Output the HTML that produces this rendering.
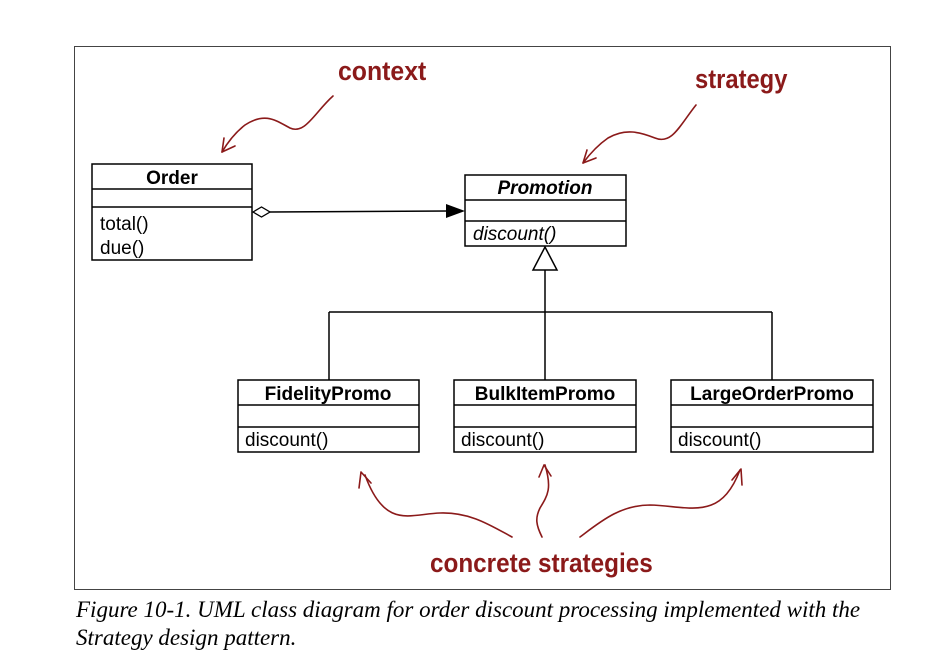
<!DOCTYPE html>
<html><head><meta charset="utf-8"><style>
html,body{margin:0;padding:0;background:#fff;width:948px;height:670px;overflow:hidden}
svg{display:block}
.b{font-family:"Liberation Sans",Arial,sans-serif;font-weight:bold;font-size:19px;fill:#000}
.m{font-family:"Liberation Sans",Arial,sans-serif;font-size:19px;fill:#000}
.h{font-family:"Liberation Sans Narrow","Liberation Sans",sans-serif;font-weight:bold;fill:#8b1a1a;font-size:27px}
.cap{font-family:"Liberation Serif",serif;font-style:italic;font-size:23px;fill:#000}
</style></head><body>
<svg width="948" height="670" viewBox="0 0 948 670">
<rect x="74.5" y="46.5" width="816" height="543" fill="#fff" stroke="#444" stroke-width="1"/>
<g fill="#fff" stroke="#000" stroke-width="1.5">
<rect x="92" y="164" width="160" height="96"/><line x1="92" y1="189" x2="252" y2="189"/><line x1="92" y1="207" x2="252" y2="207"/>
<rect x="465" y="175" width="161" height="71"/><line x1="465" y1="200" x2="626" y2="200"/><line x1="465" y1="221" x2="626" y2="221"/>
<rect x="238" y="380" width="181" height="72"/><line x1="238" y1="405" x2="419" y2="405"/><line x1="238" y1="427" x2="419" y2="427"/>
<rect x="454" y="380" width="182" height="72"/><line x1="454" y1="405" x2="636" y2="405"/><line x1="454" y1="427" x2="636" y2="427"/>
<rect x="671" y="380" width="202" height="72"/><line x1="671" y1="405" x2="873" y2="405"/><line x1="671" y1="427" x2="873" y2="427"/>
</g>
<g stroke="#000" stroke-width="1.5" fill="none">
<line x1="270" y1="212" x2="448" y2="211"/>
<line x1="545" y1="270" x2="545" y2="380"/>
<line x1="329" y1="312" x2="772" y2="312"/>
<line x1="329" y1="312" x2="329" y2="380"/>
<line x1="772" y1="312" x2="772" y2="380"/>
</g>
<polygon points="253,212 261.5,207 270,212 261.5,217" fill="#fff" stroke="#000" stroke-width="1.3"/>
<polygon points="446,204 465,211 446,218" fill="#000"/>
<polygon points="545,247 557,270 533,270" fill="#fff" stroke="#000" stroke-width="1.5"/>
<text class="b" x="172" y="184" text-anchor="middle">Order</text>
<text class="m" x="100" y="230">total()</text>
<text class="m" x="100" y="254">due()</text>
<text class="b" x="545" y="194" text-anchor="middle" font-style="italic">Promotion</text>
<text class="m" x="473" y="240" font-style="italic">discount()</text>
<text class="b" x="328" y="400" text-anchor="middle">FidelityPromo</text>
<text class="m" x="245" y="446">discount()</text>
<text class="b" x="545" y="400" text-anchor="middle">BulkItemPromo</text>
<text class="m" x="461" y="446">discount()</text>
<text class="b" x="772" y="400" text-anchor="middle">LargeOrderPromo</text>
<text class="m" x="678" y="446">discount()</text>
<g stroke="#8b1a1a" stroke-width="1.6" fill="none" stroke-linecap="round">
<path d="M333,96 C315,112 305,135 290,128 C275,120 265,112 245,125 Q232,135 222,152"/>
<path d="M222,152 L224,138 M222,152 L235,146"/>
<path d="M696,105 C680,125 672,145 655,138 C640,132 625,128 608,138 Q595,147 583,163"/>
<path d="M583,163 L587,150 M583,163 L596,158"/>
<path d="M512,537 C490,525 470,512 440,513 C410,514 385,530 365,475"/>
<path d="M361,472 L359,488 M361,472 L371,483"/>
<path d="M542,537 C536,525 535,518 540,508 C548,495 552,488 545,465"/>
<path d="M544,465 L539,477 M544,465 L551,476"/>
<path d="M580,537 C600,522 620,505 650,505 C690,506 720,522 740,470"/>
<path d="M741,469 L732,480 M741,469 L742,485"/>
</g>
<text class="h" x="338" y="80" transform="translate(338 80) scale(0.92 1) translate(-338 -80)">context</text>
<text class="h" x="695" y="88" transform="translate(695 88) scale(0.88 1) translate(-695 -88)">strategy</text>
<text class="h" x="430" y="572" transform="translate(430 572) scale(0.9 1) translate(-430 -572)">concrete strategies</text>
<text class="cap" x="76" y="617">Figure 10-1. UML class diagram for order discount processing implemented with the</text>
<text class="cap" x="76" y="645">Strategy design pattern.</text>
</svg>
</body></html>
